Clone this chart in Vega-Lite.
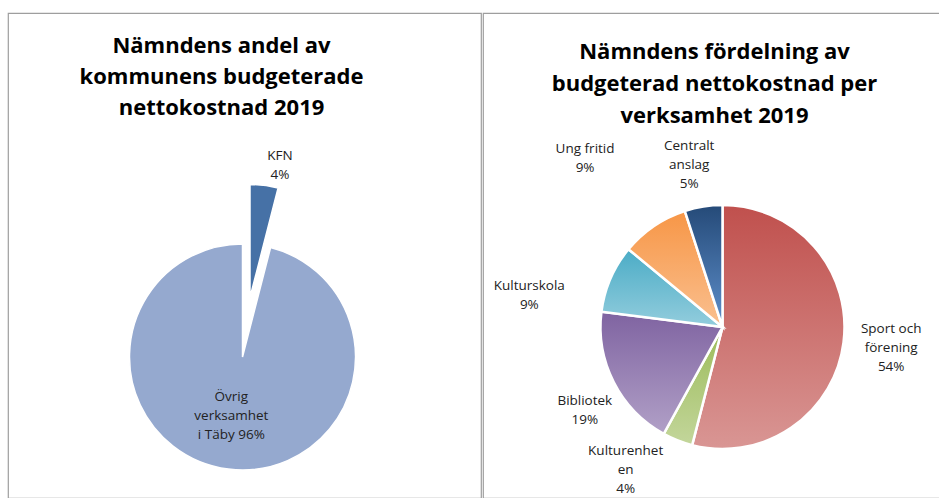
{
  "$schema": "https://vega.github.io/schema/vega-lite/v6.json",
  "background": "white",
  "padding": {"left": 7, "top": 12, "right": 0, "bottom": 0},
  "spacing": 0,
  "config": {"view": {"stroke": "#9e9e9e", "strokeWidth": 1.2}},
  "hconcat": [
    {
      "width": 473,
      "height": 485,
      "view": {"stroke": "#9e9e9e", "strokeWidth": 1.2},
      "title": {"text": ["Nämndens andel av", "kommunens budgeterade", "nettokostnad 2019"], "orient": "bottom", "font": "Open Sans", "fontSize": 22, "fontWeight": "bold", "color": "#000000", "anchor": "middle", "frame": "group", "offset": -445, "baseline": "alphabetic", "lineHeight": 31, "dx": -23},
      "data": {"values": [
        {"cat": "KFN", "pct": 4, "nr": 1, "lbl": "KFN\n4%"},
        {"cat": "Övrig verksamhet i Täby", "pct": 96, "nr": 2, "lbl": "Övrig\nverksamhet\ni Täby 96%"}
      ]},
      "encoding": {
        "theta": {"field": "pct", "type": "quantitative", "stack": true},
        "order": {"field": "nr", "type": "quantitative"},
        "detail": {"field": "cat", "type": "nominal"}
      },
      "layer": [
        {"mark": {"type": "arc", "outerRadius": 113, "xOffset": -2, "yOffset": 101.5, "fill": "#95a9cf", "stroke": "white", "strokeWidth": 1.5},
         "encoding": {"opacity": {"condition": {"test": "datum.cat === 'KFN'", "value": 0}, "value": 1}}},
        {"mark": {"type": "arc", "outerRadius": 113, "xOffset": 5.5, "yOffset": 42, "fill": "#4671a6", "stroke": "white", "strokeWidth": 1.5},
         "encoding": {"opacity": {"condition": {"test": "datum.cat === 'KFN'", "value": 1}, "value": 0}}},
        {"mark": {"type": "text", "radius": {"expr": "datum.cat === 'KFN' ? 195 : 57"}, "xOffset": -2, "yOffset": 101.5, "font": "Open Sans", "fontSize": 13.5, "lineBreak": "\n", "lineHeight": 19, "color": "#222222",
                  "dx": {"expr": "datum.cat === 'KFN' ? 13 : -4"},
                  "dy": {"expr": "datum.cat === 'KFN' ? -8 : -17"}},
         "encoding": {"text": {"field": "lbl", "type": "nominal"}}}
      ]
    },
    {
      "width": 458,
      "height": 485,
      "view": {"stroke": "#9e9e9e", "strokeWidth": 1.2},
      "title": {"text": ["Nämndens fördelning av", "budgeterad nettokostnad per", "verksamhet 2019"], "orient": "bottom", "font": "Open Sans", "fontSize": 22, "fontWeight": "bold", "color": "#000000", "anchor": "middle", "frame": "group", "offset": -439, "baseline": "alphabetic", "lineHeight": 32, "dx": 2.5},
      "data": {"values": [
        {"cat": "Sport och förening", "pct": 54, "nr": 1, "lbl": "Sport och\nförening\n54%"},
        {"cat": "Kulturenheten", "pct": 4, "nr": 2, "lbl": "Kulturenhet\nen\n4%"},
        {"cat": "Bibliotek", "pct": 19, "nr": 3, "lbl": "Bibliotek\n19%"},
        {"cat": "Kulturskola", "pct": 9, "nr": 4, "lbl": "Kulturskola\n9%"},
        {"cat": "Ung fritid", "pct": 9, "nr": 5, "lbl": "Ung fritid\n9%"},
        {"cat": "Centralt anslag", "pct": 5, "nr": 6, "lbl": "Centralt\nanslag\n5%"}
      ]},
      "encoding": {
        "theta": {"field": "pct", "type": "quantitative", "stack": true},
        "order": {"field": "nr", "type": "quantitative"},
        "detail": {"field": "cat", "type": "nominal"}
      },
      "layer": [
        {"mark": {"type": "arc", "outerRadius": 122, "xOffset": 10.5, "yOffset": 71.5, "stroke": "white", "strokeWidth": 2.5},
         "encoding": {"fill": {"condition": [
           {"test": "datum.cat === 'Sport och förening'", "value": {"gradient": "linear", "x1": 0, "y1": 0, "x2": 0, "y2": 1, "stops": [{"offset": 0, "color": "#c0504d"}, {"offset": 1, "color": "#d99694"}]}},
           {"test": "datum.cat === 'Kulturenheten'", "value": {"gradient": "linear", "x1": 0, "y1": 0, "x2": 0, "y2": 1, "stops": [{"offset": 0, "color": "#9bbb59"}, {"offset": 1, "color": "#c3d69b"}]}},
           {"test": "datum.cat === 'Bibliotek'", "value": {"gradient": "linear", "x1": 0, "y1": 0, "x2": 0, "y2": 1, "stops": [{"offset": 0, "color": "#7f63a1"}, {"offset": 1, "color": "#b1a0c7"}]}},
           {"test": "datum.cat === 'Kulturskola'", "value": {"gradient": "linear", "x1": 0, "y1": 0, "x2": 0, "y2": 1, "stops": [{"offset": 0, "color": "#4bacc6"}, {"offset": 1, "color": "#93cddd"}]}},
           {"test": "datum.cat === 'Ung fritid'", "value": {"gradient": "linear", "x1": 0, "y1": 0, "x2": 0, "y2": 1, "stops": [{"offset": 0, "color": "#f79646"}, {"offset": 1, "color": "#fac090"}]}}
         ], "value": {"gradient": "linear", "x1": 0, "y1": 0, "x2": 0, "y2": 1, "stops": [{"offset": 0, "color": "#254a78"}, {"offset": 1, "color": "#5e8fcb"}]}}}},
        {"mark": {"type": "text", "radius": 168, "xOffset": 10.5, "yOffset": 71.5, "font": "Open Sans", "fontSize": 13.5, "lineBreak": "\n", "lineHeight": 19, "color": "#222222",
                  "dx": {"expr": "datum.cat === 'Kulturenheten' ? -35 : datum.cat === 'Bibliotek' ? 12 : datum.cat === 'Kulturskola' ? -39 : datum.cat === 'Ung fritid' ? -43 : datum.cat === 'Centralt anslag' ? -7 : 2"},
                  "dy": {"expr": "datum.cat === 'Kulturenheten' ? -32 : datum.cat === 'Bibliotek' ? -2 : datum.cat === 'Kulturskola' ? 26 : datum.cat === 'Ung fritid' ? -39 : datum.cat === 'Centralt anslag' ? -15 : -19"}},
         "encoding": {"text": {"field": "lbl", "type": "nominal"}}}
      ]
    }
  ]
}
